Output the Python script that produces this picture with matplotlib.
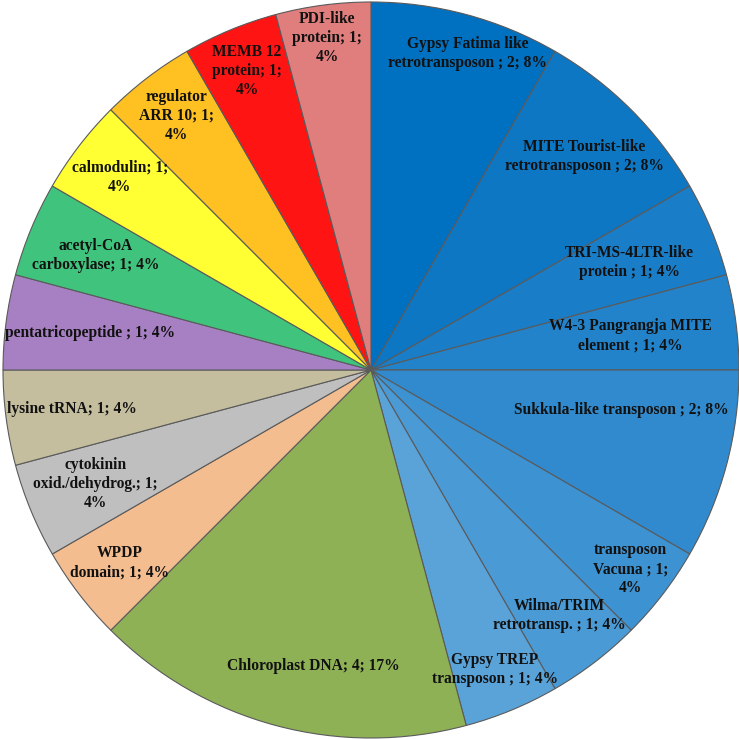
import numpy as np
import matplotlib
matplotlib.use("Agg")
import matplotlib.pyplot as plt

# counts of each hit, clockwise from 12 o'clock
counts = [2, 2, 1, 1, 2, 1, 1, 1, 4, 1, 1, 1, 1, 1, 1, 1, 1, 1]

labels = [
    "Gypsy Fatima like\nretrotransposon ; 2; 8%",
    "MITE Tourist-like\nretrotransposon ; 2; 8%",
    "TRI-MS-4LTR-like\nprotein ; 1; 4%",
    "W4-3 Pangrangja MITE\nelement ; 1; 4%",
    "Sukkula-like transposon ; 2; 8%",
    "transposon\nVacuna ; 1;\n4%",
    "Wilma/TRIM\nretrotransp. ; 1; 4%",
    "Gypsy TREP\ntransposon ; 1; 4%",
    "Chloroplast DNA; 4; 17%",
    "WPDP\ndomain; 1; 4%",
    "cytokinin\noxid./dehydrog.; 1;\n4%",
    "lysine tRNA; 1; 4%",
    "pentatricopeptide ; 1; 4%",
    "acetyl-CoA\ncarboxylase; 1; 4%",
    "calmodulin; 1;\n4%",
    "regulator\nARR 10; 1;\n4%",
    "MEMB 12\nprotein; 1;\n4%",
    "PDI-like\nprotein; 1;\n4%",
]

colors = [
    "#0070C0", "#0E77C3", "#1A7DC7", "#2383CA", "#308ACD", "#3D92D1",
    "#4A9AD5", "#5AA3D9", "#8FB155", "#F4BD90", "#BFBFBF", "#C4BE9F",
    "#A680C3", "#40C47D", "#FFFF33", "#FFC022", "#FF1414", "#E07E7E",
]

# label placement: fraction of radius, and small angular nudge (deg)
label_r = [0.90, 0.82, 0.76, 0.71, 0.69, 0.89, 0.84, 0.88, 0.82,
           0.86, 0.81, 0.82, 0.77, 0.81, 0.86, 0.87, 0.88, 0.91]
label_da = {0: -2, 4: 6, 8: 4}

fig = plt.figure(figsize=(7.39, 7.39), dpi=100)
ax = fig.add_axes([0.0, 0.0, 1.0, 1.0])

wedges, _ = ax.pie(counts, colors=colors, startangle=90, counterclock=False,
                   radius=1.0, center=(0, 0),
                   wedgeprops=dict(edgecolor="#5a5a5a", linewidth=0.8))

for i, w in enumerate(wedges):
    ang = np.deg2rad((w.theta1 + w.theta2) / 2 + label_da.get(i, 0))
    r = label_r[i]
    ax.text(r * np.cos(ang), r * np.sin(ang), labels[i], ha="center",
            va="center", fontsize=11.2, fontweight="bold",
            family="Liberation Serif", color="#111111", linespacing=1.25)

ax.set_xlim(-371 / 368, (739 - 371) / 368)
ax.set_ylim(-(739 - 370) / 368, 370 / 368)
ax.set_aspect("equal")
ax.axis("off")

fig.savefig("out.png", dpi=100)
